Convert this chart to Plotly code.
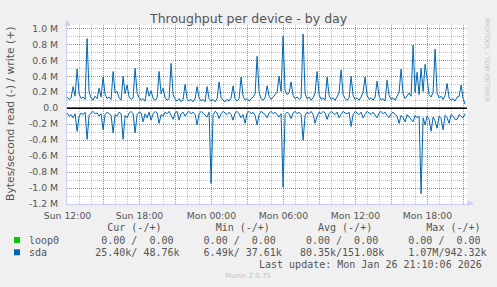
import plotly.graph_objects as go
import pandas as pd

# ---------------- data ----------------
start_time = "2026-01-25 11:58:00"
sample_step = "10min"

# sda write (positive), in MB/s
sda_write_M = [
    0.14, 0.11, 0.13, 0.27, 0.15, 0.49, 0.18, 0.12, 0.14, 0.11,
    0.87, 0.20, 0.13, 0.10, 0.15, 0.12, 0.25, 0.14, 0.39, 0.17,
    0.12, 0.14, 0.11, 0.46, 0.19, 0.21, 0.13, 0.10, 0.40, 0.18,
    0.29, 0.14, 0.11, 0.13, 0.50, 0.19, 0.13, 0.10, 0.12, 0.09,
    0.26, 0.15, 0.22, 0.12, 0.10, 0.13, 0.46, 0.18, 0.25, 0.13,
    0.10, 0.12, 0.56, 0.17, 0.11, 0.09, 0.12, 0.08, 0.11, 0.30,
    0.12, 0.09, 0.11, 0.08, 0.12, 0.27, 0.13, 0.09, 0.11, 0.08,
    0.27, 0.12, 0.09, 0.11, 0.08, 0.12, 0.33, 0.13, 0.10, 0.08,
    0.11, 0.09, 0.13, 0.28, 0.12, 0.09, 0.12, 0.39, 0.15, 0.10,
    0.12, 0.09, 0.12, 0.14, 0.18, 0.65, 0.20, 0.12, 0.10, 0.13,
    0.28, 0.15, 0.11, 0.14, 0.16, 0.20, 0.40, 0.21, 0.90, 0.22,
    0.17, 0.19, 0.33, 0.16, 0.12, 0.14, 0.11, 0.13, 0.93, 0.18,
    0.12, 0.14, 0.10, 0.13, 0.19, 0.46, 0.17, 0.11, 0.13, 0.10,
    0.39, 0.16, 0.11, 0.13, 0.10, 0.14, 0.20, 0.48, 0.17, 0.12,
    0.10, 0.13, 0.40, 0.16, 0.11, 0.13, 0.10, 0.14, 0.20, 0.39,
    0.16, 0.11, 0.13, 0.10, 0.14, 0.34, 0.15, 0.10, 0.12, 0.09,
    0.35, 0.16, 0.11, 0.13, 0.10, 0.15, 0.20, 0.49, 0.18, 0.12,
    0.16, 0.19, 0.15, 0.79, 0.20, 0.45, 0.17, 0.50, 0.21, 0.55,
    0.37, 0.17, 0.14, 0.20, 0.74, 0.19, 0.13, 0.15, 0.11, 0.16,
    0.31, 0.13, 0.10, 0.12, 0.09, 0.14, 0.15, 0.29, 0.12, 0.05,
]

# sda read (drawn negative), in MB/s
sda_read_M = [
    0.06, 0.10, 0.08, 0.12, 0.07, 0.29, 0.10, 0.06, 0.08, 0.05,
    0.39, 0.09, 0.06, 0.04, 0.07, 0.06, 0.10, 0.07, 0.27, 0.08,
    0.05, 0.07, 0.09, 0.31, 0.08, 0.10, 0.05, 0.07, 0.39, 0.09,
    0.12, 0.06, 0.04, 0.07, 0.31, 0.08, 0.05, 0.06, 0.17, 0.07,
    0.12, 0.05, 0.15, 0.07, 0.04, 0.06, 0.19, 0.08, 0.10, 0.05,
    0.07, 0.04, 0.09, 0.14, 0.06, 0.04, 0.15, 0.07, 0.05, 0.10,
    0.06, 0.04, 0.07, 0.05, 0.08, 0.21, 0.07, 0.04, 0.06, 0.08,
    0.11, 0.05, 0.94, 0.08, 0.04, 0.06, 0.13, 0.07, 0.04, 0.06,
    0.08, 0.05, 0.08, 0.15, 0.06, 0.04, 0.07, 0.12, 0.08, 0.19,
    0.06, 0.04, 0.07, 0.05, 0.09, 0.21, 0.08, 0.04, 0.06, 0.08,
    0.12, 0.06, 0.04, 0.07, 0.05, 0.08, 0.11, 0.07, 0.99, 0.08,
    0.05, 0.07, 0.13, 0.06, 0.04, 0.07, 0.05, 0.08, 0.40, 0.09,
    0.05, 0.07, 0.04, 0.08, 0.19, 0.10, 0.05, 0.07, 0.04, 0.06,
    0.14, 0.07, 0.04, 0.06, 0.08, 0.05, 0.12, 0.08, 0.04, 0.06,
    0.07, 0.05, 0.23, 0.08, 0.04, 0.06, 0.08, 0.05, 0.12, 0.08,
    0.04, 0.06, 0.08, 0.05, 0.08, 0.12, 0.06, 0.04, 0.07, 0.05,
    0.09, 0.12, 0.07, 0.05, 0.08, 0.10, 0.19, 0.09, 0.12, 0.17,
    0.08, 0.11, 0.13, 0.17, 0.09, 0.12, 0.10, 1.07, 0.12, 0.21,
    0.10, 0.14, 0.29, 0.11, 0.16, 0.25, 0.10, 0.13, 0.27, 0.09,
    0.12, 0.19, 0.08, 0.10, 0.14, 0.14, 0.08, 0.10, 0.12, 0.07,
]

loop0_write_M = [0.0] * len(sda_write_M)
loop0_read_M = [0.0] * len(sda_read_M)

series_names = ["loop0", "sda"]
series_colors = ["#00CC00", "#0066B3"]
cur_vals = [("0.00 ", "0.00 "), ("25.40k", "48.76k")]
min_vals = [("0.00 ", "0.00 "), ("6.49k", "37.61k")]
avg_vals = [("0.00 ", "0.00 "), ("80.35k", "151.08k")]
max_vals = [("0.00 ", "0.00 "), ("1.07M", "942.32k")]
col_headers = ["Cur (-/+)", "Min (-/+)", "Avg (-/+)", "Max (-/+)"]

y_tick_vals = [-1.2e6, -1.0e6, -0.8e6, -0.6e6, -0.4e6, -0.2e6, 0,
               0.2e6, 0.4e6, 0.6e6, 0.8e6, 1.0e6]
y_tick_text = ["-1.2 M", "-1.0 M", "-0.8 M", "-0.6 M", "-0.4 M", "-0.2 M", "0.0",
               "0.2 M", "0.4 M", "0.6 M", "0.8 M", "1.0 M"]
x_tick_vals = ["2026-01-25 12:00", "2026-01-25 15:00", "2026-01-25 18:00",
               "2026-01-25 21:00", "2026-01-26 00:00", "2026-01-26 03:00",
               "2026-01-26 06:00", "2026-01-26 09:00", "2026-01-26 12:00",
               "2026-01-26 15:00", "2026-01-26 18:00", "2026-01-26 21:00"]
x_tick_text = ["Sun 12:00", "", "Sun 18:00", "", "Mon 00:00", "",
               "Mon 06:00", "", "Mon 12:00", "", "Mon 18:00", ""]

title_text = "Throughput per device - by day"
ylabel_text = "Bytes/second read (-) / write (+)"
last_update = "Last update: Mon Jan 26 21:10:06 2026"
watermark = "RRDTOOL / TOBI OETIKER"
munin_ver = "Munin 2.0.75"

# ---------------- figure ----------------
W, H = 497, 287
L, R, T, B = 67, 30, 25, 83
PW, PH = W - L - R, H - T - B


def px(xp):
    return (xp - L) / PW


def py(yp):
    return (H - B - yp) / PH


times = pd.date_range(start_time, periods=len(sda_write_M), freq=sample_step)

fig = go.Figure()
fig.add_trace(go.Scatter(x=times, y=[-v * 1e6 for v in loop0_read_M], mode="lines",
                         line=dict(color=series_colors[0], width=1)))
fig.add_trace(go.Scatter(x=times, y=[v * 1e6 for v in loop0_write_M], mode="lines",
                         line=dict(color=series_colors[0], width=1)))
fig.add_trace(go.Scatter(x=times, y=[-v * 1e6 for v in sda_read_M], mode="lines",
                         line=dict(color=series_colors[1], width=1)))
fig.add_trace(go.Scatter(x=times, y=[v * 1e6 for v in sda_write_M], mode="lines",
                         line=dict(color=series_colors[1], width=1)))

MAJ = "rgba(222,79,79,0.55)"
MIN = "rgba(143,143,143,0.55)"
AXC = "#C9CFF5"
FONTC = "#555555"

fig.update_layout(
    width=W, height=H,
    margin=dict(l=L, r=R, t=T, b=B, pad=0),
    paper_bgcolor="#F0F0F0", plot_bgcolor="#FFFFFF",
    showlegend=False,
    font=dict(family="DejaVu Sans", color=FONTC, size=9.3),
    xaxis=dict(
        type="date",
        range=["2026-01-25 11:57:30", "2026-01-26 21:17:30"],
        tickmode="array", tickvals=x_tick_vals, ticktext=x_tick_text,
        showgrid=True, gridcolor=MAJ, griddash="1px,1px", gridwidth=1,
        minor=dict(dtick=3600000, tick0="2026-01-25 12:00", showgrid=True,
                   gridcolor=MIN, griddash="1px,1px", gridwidth=1, ticks=""),
        showline=True, linecolor=AXC, linewidth=1,
        ticks="", zeroline=False, ticklabelstandoff=3,
        tickfont=dict(size=9.3, color=FONTC),
    ),
    yaxis=dict(
        range=[-1.2e6, 1.042e6],
        tickmode="array", tickvals=y_tick_vals, ticktext=y_tick_text,
        showgrid=True, gridcolor=MAJ, griddash="1px,1px", gridwidth=1,
        minor=dict(dtick=1e5, tick0=0, showgrid=True,
                   gridcolor=MIN, griddash="1px,1px", gridwidth=1, ticks=""),
        showline=True, linecolor=AXC, linewidth=1,
        ticks="", zeroline=False, ticklabelstandoff=6,
        tickfont=dict(size=9.3, color=FONTC),
    ),
)

shapes = []
# zero line on top
shapes.append(dict(type="line", xref="paper", yref="y", x0=0, x1=1, y0=0, y1=0,
                   line=dict(color="#000000", width=1.6), layer="above"))
# axis arrows
shapes.append(dict(type="path", xref="paper", yref="paper",
                   path=f"M {px(64.5)} {py(26)} L {px(67.5)} {py(19.5)} L {px(70.5)} {py(26)} Z",
                   fillcolor=AXC, line=dict(width=0), layer="above"))
shapes.append(dict(type="path", xref="paper", yref="paper",
                   path=f"M {px(467.5)} {py(200.5)} L {px(474)} {py(203.5)} L {px(467.5)} {py(206.5)} Z",
                   fillcolor=AXC, line=dict(width=0), layer="above"))
# legend swatches
for k, col in enumerate(series_colors):
    y0 = 237 + 12.3 * k
    shapes.append(dict(type="rect", xref="paper", yref="paper",
                       x0=px(14), x1=px(20), y0=py(y0 + 6), y1=py(y0),
                       fillcolor=col, line=dict(width=0), layer="above"))
fig.update_layout(shapes=shapes)

NB = "\u00a0"


def mono(s):
    return s.replace(" ", NB)


def field(pair):
    return pair[0].rjust(7) + "/" + pair[1].rjust(7)


ann = []
ann.append(dict(text=title_text, x=px(248.5), y=py(18.5), xref="paper", yref="paper",
                showarrow=False, xanchor="center", yanchor="middle",
                font=dict(family="DejaVu Sans", size=12.5, color=FONTC)))
ann.append(dict(text=ylabel_text, x=px(10), y=py(114), xref="paper", yref="paper",
                showarrow=False, xanchor="center", yanchor="middle", textangle=-90,
                font=dict(family="DejaVu Sans", size=10.8, color=FONTC)))
ann.append(dict(text=watermark, x=px(487), y=py(60), xref="paper", yref="paper",
                showarrow=False, xanchor="center", yanchor="middle", textangle=90,
                font=dict(family="DejaVu Sans", size=6.5, color="#C4C4C4")))
header = " " * 13 + col_headers[0] + " " * 9 + col_headers[1] + " " * 8 + col_headers[2] + " " * 9 + col_headers[3]
ann.append(dict(text=mono(header), x=px(27), y=py(227.5), xref="paper", yref="paper",
                showarrow=False, xanchor="left", yanchor="middle",
                font=dict(family="DejaVu Sans Mono", size=10, color=FONTC)))
for k, name in enumerate(series_names):
    row = name.ljust(10) + "  ".join(field(p) for p in
                                      (cur_vals[k], min_vals[k], avg_vals[k], max_vals[k]))
    ann.append(dict(text=mono(row), x=px(27), y=py(240 + 12.3 * k), xref="paper", yref="paper",
                    showarrow=False, xanchor="left", yanchor="middle",
                    font=dict(family="DejaVu Sans Mono", size=10, color=FONTC)))
ann.append(dict(text=mono(last_update), x=px(484), y=py(264), xref="paper", yref="paper",
                showarrow=False, xanchor="right", yanchor="middle",
                font=dict(family="DejaVu Sans Mono", size=10, color=FONTC)))
ann.append(dict(text=munin_ver, x=px(248), y=py(276), xref="paper", yref="paper",
                showarrow=False, xanchor="center", yanchor="middle",
                font=dict(family="DejaVu Sans", size=7, color="#C4C4C4")))
fig.update_layout(annotations=ann)

fig.write_html("out.html")
